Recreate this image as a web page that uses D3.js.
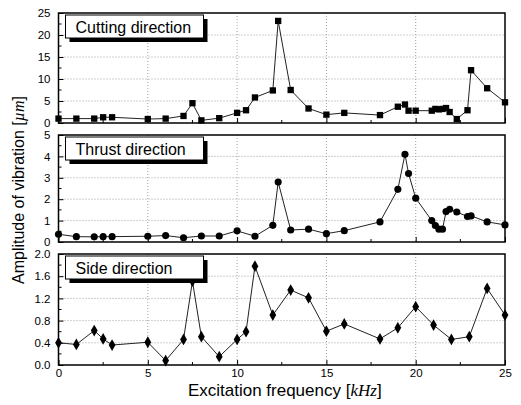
<!DOCTYPE html>
<html>
<head>
<meta charset="utf-8">
<script src="https://cdn.jsdelivr.net/npm/d3@7"></script>
<style>
  html, body { margin: 0; padding: 0; background: #fff; }
  svg { display: block; font-family: "Liberation Sans", Arial, sans-serif; }
</style>
</head>
<body>
<svg id="chart" width="521" height="405"></svg>
<script>
// Excitation frequency [kHz] and measured vibration amplitude [µm]
const cuttingFreq = [0,1,2,2.5,3,5,6,7,7.5,8,9,10,10.5,11,12,12.3,13,14,15,16,18,19,19.4,19.6,20,20.9,21.1,21.3,21.5,21.7,21.9,22.3,22.9,23.1,24,25];
const cuttingAmp  = [1.0,1.0,1.0,1.3,1.3,0.9,1.0,1.6,4.5,0.6,1.1,2.3,2.9,5.8,7.4,23.2,7.5,3.3,1.9,2.3,1.8,3.7,4.2,2.8,2.8,2.8,3.2,3.1,3.2,3.4,2.5,0.9,2.9,12.0,7.9,4.7];

const thrustFreq = [0,1,2,2.5,3,5,6,7,8,9,10,11,12,12.3,13,14,15,16,18,19,19.4,19.6,20,20.9,21.1,21.3,21.5,21.7,21.9,22.3,22.9,23.1,24,25];
const thrustAmp  = [0.36,0.25,0.24,0.25,0.25,0.27,0.3,0.2,0.28,0.28,0.52,0.27,0.78,2.8,0.56,0.6,0.39,0.53,0.94,2.46,4.1,3.2,2.05,1.0,0.77,0.6,0.6,1.42,1.53,1.4,1.19,1.22,0.94,0.8];

const sideFreq = [0,1,2,2.5,3,5,6,7,7.5,8,9,10,10.5,11,12,13,14,15,16,18,19,20,21,22,23,24,25];
const sideAmp  = [0.40,0.37,0.62,0.47,0.36,0.41,0.08,0.46,1.51,0.51,0.15,0.46,0.6,1.78,0.9,1.35,1.21,0.61,0.74,0.47,0.67,1.05,0.72,0.46,0.51,1.38,0.9];

const panelNames = ["Cutting direction", "Thrust direction", "Side direction"];
const yMaxes = [25, 5, 2.0];
const yTickValues = [[0,5,10,15,20,25],[0,1,2,3,4,5],[0,0.4,0.8,1.2,1.6,2.0]];
const xTickValues = [0,5,10,15,20,25];

const svg = d3.select("#chart");
const left = 58.5, right = 505;
const panels = [
  {top: 13, bottom: 123},
  {top: 135, bottom: 242},
  {top: 254, bottom: 365}
];

const x = d3.scaleLinear().domain([0, 25]).range([left, right]);

const series = [
  {freq: cuttingFreq, amp: cuttingAmp, symbol: d3.symbolSquare, size: 40},
  {freq: thrustFreq, amp: thrustAmp, symbol: d3.symbolCircle, size: 40},
  {freq: sideFreq, amp: sideAmp, symbol: d3.symbolDiamond, size: 40}
];

panels.forEach((p, i) => {
  const y = d3.scaleLinear().domain([0, yMaxes[i]]).range([p.bottom, p.top]);
  const g = svg.append("g");

  // dotted grid at major ticks
  g.append("g").selectAll("line").data(xTickValues.slice(1, -1)).join("line")
    .attr("x1", d => x(d)).attr("x2", d => x(d))
    .attr("y1", p.top).attr("y2", p.bottom)
    .attr("stroke", "#888").attr("stroke-width", 0.8).attr("stroke-dasharray", "1,2");
  g.append("g").selectAll("line").data(yTickValues[i].slice(1, -1)).join("line")
    .attr("x1", left).attr("x2", right)
    .attr("y1", d => y(d)).attr("y2", d => y(d))
    .attr("stroke", "#888").attr("stroke-width", 0.8).attr("stroke-dasharray", "1,2");

  // left axis (ticks pointing inward), major + minor
  const step = yTickValues[i][1] - yTickValues[i][0];
  const minorY = d3.range(0, yMaxes[i] + 1e-9, step / 2).filter((v, k) => k % 2 === 1);
  const yAxis = g.append("g").attr("transform", `translate(${left},0)`)
    .call(d3.axisLeft(y).tickValues(yTickValues[i]).tickSizeInner(-5).tickSizeOuter(0)
      .tickPadding(8)
      .tickFormat(i === 2 ? d3.format(".1f") : d3.format("d")));
  yAxis.select(".domain").remove();
  yAxis.selectAll("text").attr("font-size", 11.5).attr("fill", "#000")
    .attr("font-family", "'Liberation Sans', Arial, sans-serif");
  yAxis.selectAll("line").attr("stroke", "#000");
  g.append("g").selectAll("line").data(minorY).join("line")
    .attr("x1", left).attr("x2", left + 3)
    .attr("y1", d => y(d)).attr("y2", d => y(d)).attr("stroke", "#000");

  // bottom axis ticks (inward), labels only on the lowest panel
  const xAxis = g.append("g").attr("transform", `translate(0,${p.bottom})`)
    .call(d3.axisBottom(x).tickValues(xTickValues).tickSizeInner(-5).tickSizeOuter(0)
      .tickPadding(4).tickFormat(i === 2 ? d3.format("d") : () => ""));
  xAxis.select(".domain").remove();
  xAxis.selectAll("text").attr("font-size", 11.5).attr("fill", "#000")
    .attr("font-family", "'Liberation Sans', Arial, sans-serif");
  xAxis.selectAll("line").attr("stroke", "#000");
  g.append("g").selectAll("line").data([2.5, 7.5, 12.5, 17.5, 22.5]).join("line")
    .attr("x1", d => x(d)).attr("x2", d => x(d))
    .attr("y1", p.bottom).attr("y2", p.bottom - 3).attr("stroke", "#000");

  // frame
  g.append("rect").attr("x", left).attr("y", p.top)
    .attr("width", right - left).attr("height", p.bottom - p.top)
    .attr("fill", "none").attr("stroke", "#000").attr("stroke-width", 1.5);

  // series line + markers
  const s = series[i];
  const pts = s.freq.map((f, k) => [f, s.amp[k]]);
  g.append("path").datum(pts)
    .attr("d", d3.line().x(d => x(d[0])).y(d => y(d[1])))
    .attr("fill", "none").attr("stroke", "#222").attr("stroke-width", 1);
  g.append("g").selectAll("path").data(pts).join("path")
    .attr("transform", d => `translate(${x(d[0])},${y(d[1])})`)
    .attr("d", d3.symbol().type(s.symbol).size(s.size))
    .attr("fill", "#000");

  // title box with drop shadow
  const bx = left + 7, by = p.top + 2, bw = 138, bh = 23;
  const label = g.append("g");
  label.append("rect").attr("x", bx + 4).attr("y", by + 4).attr("width", bw).attr("height", bh).attr("fill", "#000");
  label.append("rect").attr("x", bx).attr("y", by).attr("width", bw).attr("height", bh)
    .attr("fill", "#fff").attr("stroke", "#000").attr("stroke-width", 1);
  label.append("text").attr("x", bx + 10).attr("y", by + bh / 2 + 6)
    .attr("font-size", 16).attr("fill", "#000").text(panelNames[i]);
});

// axis titles
const xt = svg.append("text").attr("x", (left + right) / 2 + 3).attr("y", 396)
  .attr("text-anchor", "middle").attr("font-size", 17).attr("fill", "#000");
xt.append("tspan").text("Excitation frequency [");
xt.append("tspan").attr("font-family", "'Liberation Serif', 'Times New Roman', serif")
  .attr("font-style", "italic").text("kHz");
xt.append("tspan").text("]");

const yt = svg.append("text").attr("transform", "translate(24,190) rotate(-90)")
  .attr("text-anchor", "middle").attr("font-size", 16).attr("fill", "#000");
yt.append("tspan").text("Amplitude of vibration [");
yt.append("tspan").attr("font-family", "'Liberation Serif', 'Times New Roman', serif")
  .attr("font-style", "italic").text("µm");
yt.append("tspan").text("]");
</script>
</body>
</html>
